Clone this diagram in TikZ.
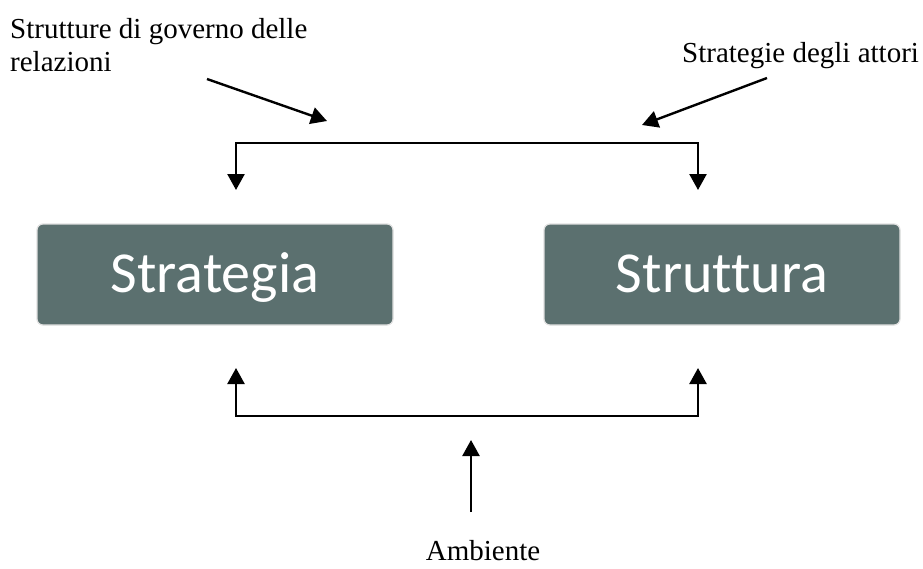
\documentclass[tikz,border=0pt]{standalone}
\usepackage{fontspec}
\setmainfont{Liberation Serif}
\newfontfamily\boxfont[Ligatures={NoCommon,NoDiscretionary}]{Carlito}
\usetikzlibrary{arrows.meta}
\definecolor{boxfill}{RGB}{91,112,111}
\tikzset{
  block/.style={draw=black!12, line width=1.2pt, fill=boxfill, rounded corners=6pt,
    minimum width=356pt, minimum height=101pt, inner sep=0pt,
    text height=45pt, text depth=10pt,
    text=white, font=\boxfont\fontsize{58}{60}\selectfont},
  label/.style={inner sep=0pt, font=\fontsize{29}{33}\selectfont},
  tip/.style={Triangle[width=17pt,length=16pt]},
  conn/.style={line width=2.4pt, -{Triangle[width=17pt,length=16pt]}},
  bothconn/.style={line width=2.4pt, {Triangle[width=17pt,length=16pt]}-{Triangle[width=17pt,length=16pt]}}
}
\begin{document}
\begin{tikzpicture}[x=1pt,y=-1pt]
\useasboundingbox (0,0) rectangle (923,568);

% the two boxes
\node[block] (strat) at (215,274.5) {Strategia};
\node[block] (strutt) at (722,274.5) {Struttura};

% outside influences
\node[label, anchor=north west, align=left] (governo) at (10,18) {Strutture di governo delle\\relazioni};
\node[label, anchor=base west] (attori) at (682,62) {Strategie degli attori};
\node[label, anchor=base] (ambiente) at (483,560) {Ambiente};

% top bracket feeding both boxes
\coordinate (topL) at (236,143);
\coordinate (topR) at (698,143);
\coordinate (topLend) at (236,190);
\coordinate (topRend) at (698,190);
\draw[bothconn] (topLend) -- (topL) -- (topR) -- (topRend);

% bottom bracket feeding both boxes
\coordinate (botL) at (236,416);
\coordinate (botR) at (698,416);
\coordinate (botLend) at (236,368);
\coordinate (botRend) at (698,368);
\draw[bothconn] (botLend) -- (botL) -- (botR) -- (botRend);

% arrows from the labels towards the brackets
\coordinate (govStart) at (207,79);
\coordinate (govTip) at (327,121);
\draw[conn] (govStart) -- (govTip);

\coordinate (attStart) at (767,78);
\coordinate (attTip) at (642,125);
\draw[conn] (attStart) -- (attTip);

\coordinate (ambStart) at (471,512);
\coordinate (ambTip) at (471,440);
\draw[conn] (ambStart) -- (ambTip);
\end{tikzpicture}
\end{document}
